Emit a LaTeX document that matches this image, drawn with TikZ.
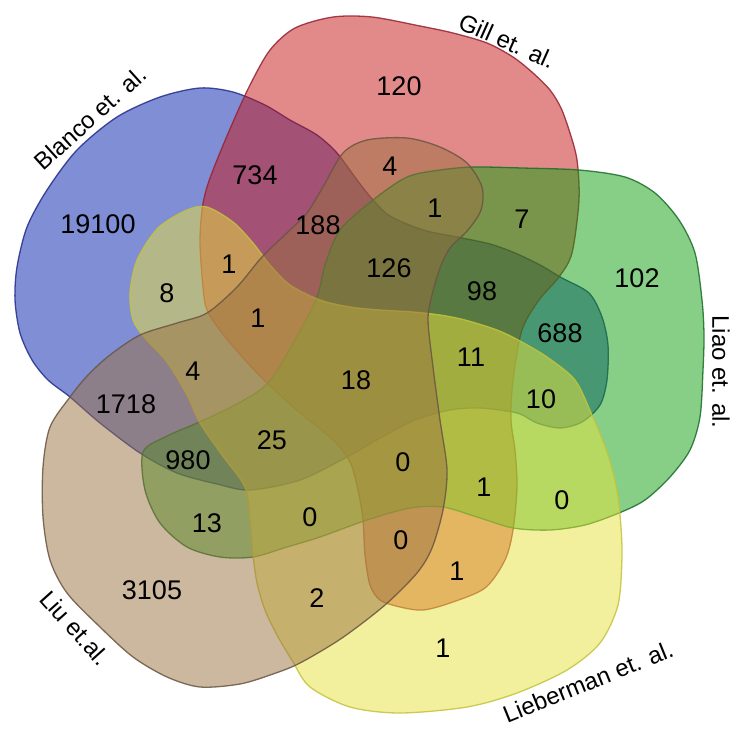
\documentclass[tikz,border=0pt]{standalone}
\usepackage{fontspec}
\setmainfont{Liberation Sans}
\definecolor{cB}{RGB}{0,31,173}
\definecolor{cG}{RGB}{199,21,21}
\definecolor{cL}{RGB}{17,161,17}
\definecolor{cY}{RGB}{233,227,61}
\definecolor{cU}{RGB}{155,113,65}
\definecolor{lB}{RGB}{35,45,140}
\definecolor{lG}{RGB}{150,35,50}
\definecolor{lL}{RGB}{25,110,40}
\definecolor{lY}{RGB}{195,195,60}
\definecolor{lU}{RGB}{105,85,65}
\tikzset{
  setshape/.style={line width=1.3pt, fill opacity=0.5, draw opacity=0.85},
  num/.style={font=\fontsize{27}{27}\selectfont, inner sep=0pt},
  setlabel/.style={font=\fontsize{24}{24}\selectfont, inner sep=0pt}
}
\begin{document}
\begin{tikzpicture}[x=1pt,y=-1pt]
\useasboundingbox (0,0) rectangle (744,734);
\fill[white] (0,0) rectangle (744,734);
% Blanco (blue)
\path[setshape, fill=cB, draw=lB] plot[smooth cycle, tension=0.5] coordinates {
(200,88) (233,92) (265,105) (290,120) (317,135) (337,153) (357,180) (373,200) (390,216) (423,230) (457,237) (490,244) (515,253) (540,265) (562,278) (589,293) (602,317) (608,345) (607,380) (600,405) (582,422) (560,428) (537,423) (517,413) (480,408) (450,410) (415,420) (380,438) (347,457) (300,480) (250,490) (217,484) (177,473) (140,453) (100,423) (70,397) (48,380) (32,360) (20,333) (15,300) (17,267) (27,227) (47,190) (77,150) (117,117) (160,97)};
% Gill (red)
\path[setshape, fill=cG, draw=lG] plot[smooth cycle, tension=0.5] coordinates {
(207,310) (203,287) (200,243) (202,210) (207,187) (217,160) (233,122) (250,85) (270,50) (295,28) (333,17) (372,17) (420,26) (453,33) (487,43) (513,57) (533,73) (550,90) (561,108) (570,133) (577,160) (579,200) (572,253) (559,277) (539,300) (522,330) (513,380) (511,420) (515,450) (517,487) (513,530) (505,560) (485,588) (450,603) (423,610) (400,607) (380,600) (370,585) (365,555) (363,520) (358,490) (350,462) (333,440) (300,413) (267,383) (245,360) (222,333)};
% Liao (green)
\path[setshape, fill=cL, draw=lL] plot[smooth cycle, tension=0.5] coordinates {
(143,452) (165,437) (197,423) (235,405) (268,383) (295,340) (317,297) (325,265) (340,230) (373,200) (407,177) (440,170) (473,167) (522,168) (579,170) (625,177) (655,193) (679,220) (695,253) (702,300) (704,335) (703,370) (700,417) (690,450) (670,477) (645,500) (619,513) (585,525) (550,530) (513,528) (477,517) (443,507) (410,508) (367,520) (320,537) (287,547) (253,557) (220,557) (187,547) (160,523) (145,490)};
% Lieberman (yellow)
\path[setshape, fill=cY, draw=lY] plot[smooth cycle, tension=0.5] coordinates {
(187,210) (207,207) (233,222) (253,243) (270,265) (290,285) (320,300) (350,307) (380,310) (413,312) (440,315) (465,320) (497,330) (520,341) (547,357) (575,380) (592,415) (607,452) (616,485) (620,515) (622,555) (618,605) (600,643) (567,670) (517,693) (467,707) (400,713) (350,707) (310,687) (293,662) (277,635) (265,610) (257,583) (253,555) (250,520) (245,487) (222,455) (200,423) (187,395) (167,362) (145,338) (133,320) (130,293) (137,260) (158,228)};
% Liu (brown)
\path[setshape, fill=cU, draw=lU] plot[smooth cycle, tension=0.5] coordinates {
(70,397) (50,427) (43,467) (43,517) (50,560) (67,593) (100,627) (133,657) (167,677) (200,687) (240,684) (273,674) (300,663) (342,638) (385,605) (417,573) (432,548) (443,510) (447,470) (440,420) (433,367) (428,320) (432,295) (440,268) (450,248) (468,230) (481,210) (482,187) (467,163) (440,147) (407,138) (367,140) (343,153) (323,187) (307,213) (290,230) (262,257) (237,287) (207,313) (177,323) (140,335) (110,355) (88,375)};
% numbers
\node[num] (n1) at (98,224) {19100};
\node[num] (n2) at (399,86) {120};
\node[num] (n3) at (637,278) {102};
\node[num] (n4) at (443,648) {1};
\node[num] (n5) at (152,590) {3105};
\node[num] (n6) at (255,175) {734};
\node[num] (n7) at (318,225) {188};
\node[num] (n8) at (390,166) {4};
\node[num] (n9) at (435,208) {1};
\node[num] (n10) at (522,219) {7};
\node[num] (n11) at (389,268) {126};
\node[num] (n12) at (482,291) {98};
\node[num] (n13) at (560,333) {688};
\node[num] (n14) at (229,264) {1};
\node[num] (n15) at (167,293) {8};
\node[num] (n16) at (258,318) {1};
\node[num] (n17) at (193,371) {4};
\node[num] (n18) at (356,380) {18};
\node[num] (n19) at (471,357) {11};
\node[num] (n20) at (541,399) {10};
\node[num] (n21) at (126,404) {1718};
\node[num] (n22) at (272,440) {25};
\node[num] (n23) at (188,460) {980};
\node[num] (n24) at (403,462) {0};
\node[num] (n25) at (484,487) {1};
\node[num] (n26) at (562,500) {0};
\node[num] (n27) at (207,523) {13};
\node[num] (n28) at (310,517) {0};
\node[num] (n29) at (401,540) {0};
\node[num] (n30) at (457,571) {1};
\node[num] (n31) at (317,598) {2};
% set labels
\node[setlabel, rotate=42] (lab1) at (90,118) {Blanco et. al.};
\node[setlabel, rotate=-24] (lab2) at (507,41) {Gill et. al.};
\node[setlabel, rotate=-90] (lab3) at (721,372) {Liao et. al.};
\node[setlabel, rotate=22] (lab4) at (588,682) {Lieberman et. al.};
\node[setlabel, rotate=-48] (lab5) at (75,628) {Liu et.al.};
\end{tikzpicture}
\end{document}
